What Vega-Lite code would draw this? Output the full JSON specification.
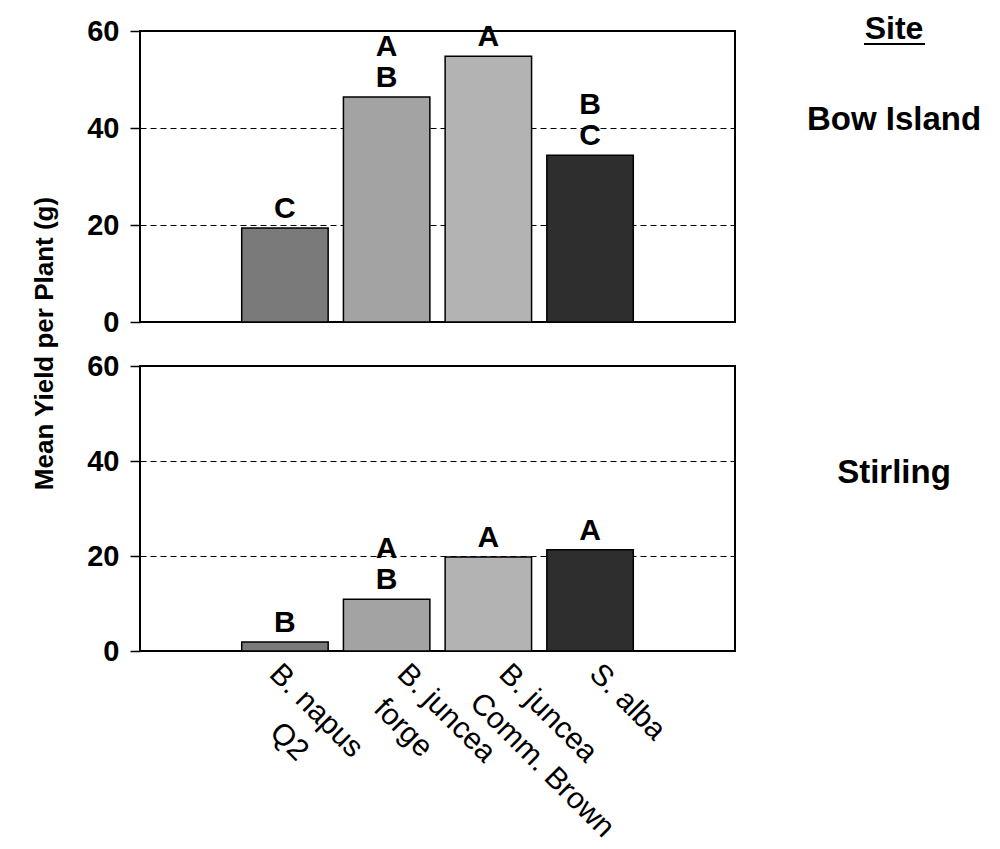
{
  "$schema": "https://vega.github.io/schema/vega-lite/v6.json",
  "background": "white",
  "padding": {"left": 30, "top": 13, "right": 5, "bottom": 5},
  "config": {
    "font": "Liberation Sans",
    "view": {"stroke": null}
  },
  "datasets": {
    "yield": [
      {"site": "Bow Island", "cultivar": "B. napus|Q2", "yield": 19.4, "upper": "", "lower": "C"},
      {"site": "Bow Island", "cultivar": "B. juncea|forge", "yield": 46.4, "upper": "A", "lower": "B"},
      {"site": "Bow Island", "cultivar": "B. juncea|Comm. Brown", "yield": 54.8, "upper": "", "lower": "A"},
      {"site": "Bow Island", "cultivar": "S. alba", "yield": 34.4, "upper": "B", "lower": "C"},
      {"site": "Stirling", "cultivar": "B. napus|Q2", "yield": 1.9, "upper": "", "lower": "B"},
      {"site": "Stirling", "cultivar": "B. juncea|forge", "yield": 10.9, "upper": "A", "lower": "B"},
      {"site": "Stirling", "cultivar": "B. juncea|Comm. Brown", "yield": 19.8, "upper": "", "lower": "A"},
      {"site": "Stirling", "cultivar": "S. alba", "yield": 21.3, "upper": "", "lower": "A"}
    ]
  },
  "columns": 2,
  "bounds": "flush",
  "spacing": {"row": 44, "column": 59},
  "concat": [
    {
      "width": 595,
      "height": 291,
      "view": {"stroke": "black", "strokeWidth": 2},
      "data": {"name": "yield"},
      "transform": [{"filter": "datum.site == 'Bow Island'"}],
      "encoding": {
        "x": {
          "field": "cultivar", "type": "nominal", "sort": null,
          "scale": {"paddingInner": 0.15, "paddingOuter": 1.075},
          "axis": {"labels": false, "ticks": false, "domain": false, "title": null}
        },
        "y": {
          "field": "yield", "type": "quantitative",
          "scale": {"domain": [0, 60], "nice": false},
          "axis": {
            "title": "Mean Yield per Plant (g)",
            "values": [0, 20, 40, 60],
            "grid": true, "gridDash": [6, 4], "gridColor": "black", "gridWidth": 1, "gridOpacity": 1,
            "domain": false,
            "tickColor": "black", "tickSize": 10, "tickWidth": 1.5,
            "labelFontSize": 29, "labelFontWeight": "bold", "labelColor": "black", "labelPadding": 11,
            "titleFontSize": 26, "titleFontWeight": "bold", "titleColor": "black",
            "titleX": -83, "titleY": 312, "titleAngle": -90, "titleAlign": "center", "titleBaseline": "bottom"
          }
        }
      },
      "layer": [
        {
          "mark": {"type": "bar", "stroke": "black", "strokeWidth": 1.5},
          "encoding": {
            "color": {
              "field": "cultivar", "type": "nominal", "sort": null,
              "scale": {"domain": ["B. napus|Q2", "B. juncea|forge", "B. juncea|Comm. Brown", "S. alba"], "range": ["#7a7a7a", "#a3a3a3", "#b3b3b3", "#2e2e2e"]},
              "legend": null
            }
          }
        },
        {
          "mark": {"type": "text", "baseline": "bottom", "dy": -4, "fontSize": 30, "fontWeight": "bold", "color": "black"},
          "encoding": {"text": {"field": "lower"}}
        },
        {
          "transform": [{"filter": "datum.upper != ''"}],
          "mark": {"type": "text", "baseline": "bottom", "dy": -35, "fontSize": 30, "fontWeight": "bold", "color": "black"},
          "encoding": {"text": {"field": "upper"}}
        }
      ]
    },
    {
      "width": 200,
      "height": 291,
      "layer": [
        {
          "data": {"values": [{"label": "Site"}]},
          "mark": {"type": "text", "fontSize": 32, "fontWeight": "bold", "baseline": "alphabetic", "color": "black"},
          "encoding": {
            "text": {"field": "label"},
            "x": {"datum": 0.5, "scale": {"domain": [0, 1]}, "axis": null},
            "y": {"datum": 58.35, "scale": {"domain": [0, 60]}, "axis": null}
          }
        },
        {
          "data": {"values": [{"label": "Site"}]},
          "mark": {"type": "rule", "color": "black", "strokeWidth": 2},
          "encoding": {
            "x": {"datum": 0.35, "scale": {"domain": [0, 1]}, "axis": null},
            "x2": {"datum": 0.655},
            "y": {"datum": 57.3, "scale": {"domain": [0, 60]}, "axis": null}
          }
        },
        {
          "data": {"values": [{"label": "Bow Island"}]},
          "mark": {"type": "text", "fontSize": 33, "fontWeight": "bold", "baseline": "alphabetic", "color": "black"},
          "encoding": {
            "text": {"field": "label"},
            "x": {"datum": 0.5, "scale": {"domain": [0, 1]}, "axis": null},
            "y": {"datum": 39.5, "scale": {"domain": [0, 60]}, "axis": null}
          }
        }
      ]
    },
    {
      "width": 595,
      "height": 285,
      "view": {"stroke": "black", "strokeWidth": 2},
      "data": {"name": "yield"},
      "transform": [{"filter": "datum.site == 'Stirling'"}],
      "encoding": {
        "x": {
          "field": "cultivar", "type": "nominal", "sort": null,
          "scale": {"paddingInner": 0.15, "paddingOuter": 1.075},
          "axis": {
            "title": null, "ticks": false, "domain": false,
            "labelAngle": 45, "labelAlign": "left", "labelBaseline": "top",
            "labelFontSize": 30, "labelColor": "black", "labelPadding": 7, "labelLineHeight": 41, "labelLimit": 0,
            "labelOffset": {"expr": "datum.value == 'B. napus|Q2' ? 0 : datum.value == 'S. alba' ? 15 : 26"},
            "labelExpr": "datum.label == 'B. napus|Q2' ? ['B. napus', '\u200d\u00a0\u00a0\u00a0\u00a0\u00a0Q2'] : datum.label == 'B. juncea|forge' ? ['B. juncea', '\u200d\u00a0forge'] : split(datum.label, '|')"
          }
        },
        "y": {
          "field": "yield", "type": "quantitative",
          "scale": {"domain": [0, 60], "nice": false},
          "axis": {
            "title": null,
            "values": [0, 20, 40, 60],
            "grid": true, "gridDash": [6, 4], "gridColor": "black", "gridWidth": 1, "gridOpacity": 1,
            "domain": false,
            "tickColor": "black", "tickSize": 10, "tickWidth": 1.5,
            "labelFontSize": 29, "labelFontWeight": "bold", "labelColor": "black", "labelPadding": 11
          }
        }
      },
      "layer": [
        {
          "mark": {"type": "bar", "stroke": "black", "strokeWidth": 1.5},
          "encoding": {
            "color": {
              "field": "cultivar", "type": "nominal", "sort": null,
              "scale": {"domain": ["B. napus|Q2", "B. juncea|forge", "B. juncea|Comm. Brown", "S. alba"], "range": ["#7a7a7a", "#a3a3a3", "#b3b3b3", "#2e2e2e"]},
              "legend": null
            }
          }
        },
        {
          "mark": {"type": "text", "baseline": "bottom", "dy": -4, "fontSize": 30, "fontWeight": "bold", "color": "black"},
          "encoding": {"text": {"field": "lower"}}
        },
        {
          "transform": [{"filter": "datum.upper != ''"}],
          "mark": {"type": "text", "baseline": "bottom", "dy": -35, "fontSize": 30, "fontWeight": "bold", "color": "black"},
          "encoding": {"text": {"field": "upper"}}
        }
      ]
    },
    {
      "width": 200,
      "height": 285,
      "layer": [
        {
          "data": {"values": [{"label": "Stirling"}]},
          "mark": {"type": "text", "fontSize": 33, "fontWeight": "bold", "baseline": "alphabetic", "color": "black"},
          "encoding": {
            "text": {"field": "label"},
            "x": {"datum": 0.5, "scale": {"domain": [0, 1]}, "axis": null},
            "y": {"datum": 35.4, "scale": {"domain": [0, 60]}, "axis": null}
          }
        }
      ]
    }
  ]
}
